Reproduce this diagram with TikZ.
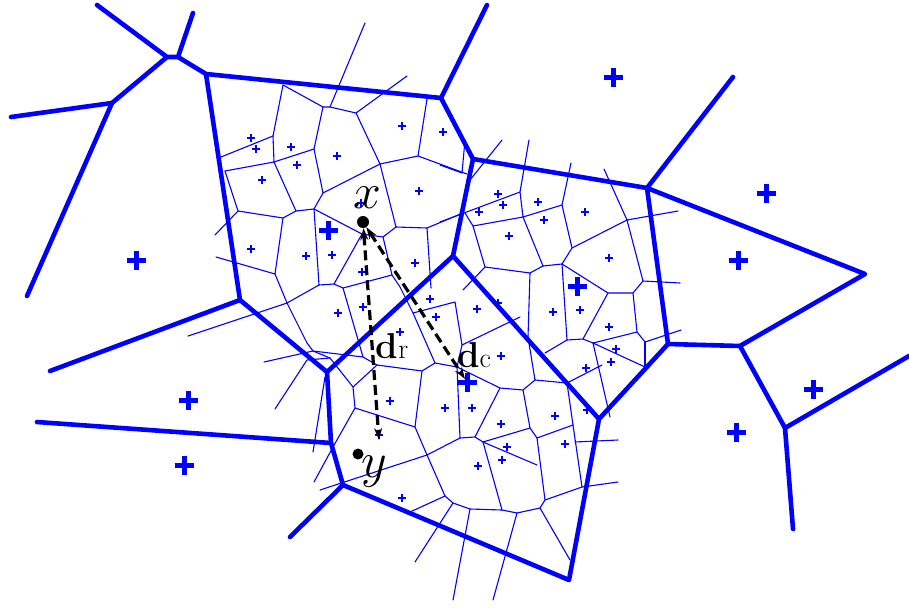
\documentclass[tikz,border=0pt]{standalone}
\usepackage{fix-cm}
\usetikzlibrary{arrows.meta}
\definecolor{vblue}{RGB}{0,0,255}
\tikzset{
  coarse/.style={draw=vblue, line width=4.6pt, line cap=round, line join=round},
  fine/.style={draw=vblue, line width=1.1pt, line cap=round, line join=round},
  bigplus/.pic={\draw[vblue, line width=5pt] (-9.5,0)--(9.5,0) (0,-9.5)--(0,9.5);},
  smallplus/.pic={\draw[vblue, line width=1.3pt] (-4,0)--(4,0) (0,-4)--(0,4);},
  dotnode/.style={circle, fill=black, inner sep=0pt, minimum size=12pt},
  dist/.style={dash pattern=on 10pt off 5pt, line width=3.2pt,
    {Stealth[length=12pt,width=8pt]}-{Stealth[length=12pt,width=8pt]}},
  lbl/.style={inner sep=0pt}
}
\newcommand{\distlabel}[1]{{\fontsize{36}{36}\selectfont\bfseries d}{\fontsize{28}{28}\selectfont #1}}
\begin{document}
\begin{tikzpicture}[x=1pt,y=-1pt]
\useasboundingbox (0,0) rectangle (909,610);
% coarse vertices
\coordinate (V1) at (167,57);  \coordinate (V2) at (178,57);
\coordinate (V3) at (206,74);  \coordinate (V4) at (112,103);
\coordinate (V5) at (441,98);  \coordinate (V6) at (473,159);
\coordinate (V7) at (240,300); \coordinate (V8) at (327,372);
\coordinate (V9) at (453,256); \coordinate (V10) at (647,188);
\coordinate (V11) at (865,274);\coordinate (V12) at (740,346);
\coordinate (V13) at (668,344);\coordinate (V14) at (599,419);
\coordinate (V15) at (785,428);\coordinate (V16) at (569,580);
\coordinate (V17) at (343,485);\coordinate (V18) at (331,443);
\coordinate (E1) at (97,5);    \coordinate (E2) at (193,13);
\coordinate (E3) at (11,117);  \coordinate (E4) at (27,296);
\coordinate (E5) at (487,5);   \coordinate (E6) at (50,371);
\coordinate (E7) at (733,77);  \coordinate (E8) at (909,356);
\coordinate (E9) at (793,529); \coordinate (E10) at (290,537);
\coordinate (E11) at (37,422);

% fine Voronoi, top-left cell
\draw[fine] (365,23)--(330,107);
\draw[fine] (407,76)--(356,113);
\draw[fine] (283,85)--(323,107)--(330,107)--(356,113)--(380,164);
\draw[fine] (283,85)--(273,136)--(221,157);
\draw[fine] (273,136)--(274,162)--(225,171);
\draw[fine] (274,162)--(314,149)--(323,107);
\draw[fine] (314,149)--(323,193)--(380,164);
\draw[fine] (323,193)--(314,209)--(296,211)--(274,162);
\draw[fine] (296,211)--(283,218)--(238,211)--(225,171);
\draw[fine] (238,211)--(215,235);
\draw[fine] (283,218)--(275,274)--(216,257);
\draw[fine] (275,274)--(287,303)--(319,285)--(314,209);
\draw[fine] (314,209)--(362,234);
\draw[fine] (319,285)--(334,284)--(362,234);
\draw[fine] (334,284)--(343,288)--(392,275)--(383,237);
\draw[fine] (392,275)--(400,287)--(413,313);
\draw[fine] (380,164)--(418,156)--(427,99);
\draw[fine] (418,156)--(467,174);
\draw[fine] (380,164)--(396,227)--(383,237)--(362,234);
\draw[fine] (396,227)--(427,228)--(463,213);
\draw[fine] (427,228)--(431,288);
\draw[fine] (188,336)--(287,303)--(307,343)--(313,351)--(363,357);
\draw[fine] (343,288)--(363,357)--(377,365);
\draw[fine] (264,362)--(313,351)--(330,358);

% fine Voronoi, bottom cell
\draw[fine] (275,409)--(307,360)--(330,358)--(353,387)--(377,365)--(422,371)--(435,363)--(457,367)--(500,388)--(523,390)--(535,380);
\draw[fine] (435,363)--(413,313)--(455,302)--(462,345)--(520,317);
\draw[fine] (462,345)--(457,367);
\draw[fine] (353,387)--(355,408)--(415,427)--(422,371);
\draw[fine] (355,408)--(333,447)--(314,482);
\draw[fine] (325,377)--(313,452);
\draw[fine] (415,427)--(427,455)--(320,490);
\draw[fine] (427,455)--(460,438)--(457,367);
\draw[fine] (460,438)--(475,437)--(500,388);
\draw[fine] (475,437)--(483,442)--(530,428)--(537,438)--(573,425)--(567,383)--(535,380);
\draw[fine] (523,390)--(530,428);
\draw[fine] (535,380)--(528,337)--(530,273);
\draw[fine] (483,442)--(537,465);
\draw[fine] (483,442)--(502,510);
\draw[fine] (537,438)--(545,500)--(582,487)--(618,482);
\draw[fine] (573,425)--(582,487);
\draw[fine] (575,442)--(618,440);
\draw[fine] (545,500)--(540,508)--(517,513)--(502,510)--(470,509)--(453,503)--(445,496)--(427,455);
\draw[fine] (445,496)--(410,512);
\draw[fine] (453,503)--(415,562);
\draw[fine] (470,509)--(453,600);
\draw[fine] (517,513)--(493,600);
\draw[fine] (540,508)--(570,560);
\draw[fine] (567,383)--(602,365);

% fine Voronoi, right cell
\draw[fine] (502,140)--(466,185);
\draw[fine] (440,165)--(462,173)--(465,140);
\draw[fine] (440,222)--(520,192)--(529,140);
\draw[fine] (520,192)--(523,217)--(473,226)--(465,213);
\draw[fine] (523,217)--(562,205)--(571,163);
\draw[fine] (562,205)--(572,248)--(562,264)--(543,266)--(523,217);
\draw[fine] (572,248)--(627,220)--(604,169);
\draw[fine] (627,220)--(678,211);
\draw[fine] (627,220)--(643,281)--(680,283);
\draw[fine] (643,281)--(633,293)--(608,293)--(562,264);
\draw[fine] (562,264)--(567,340)--(583,339)--(608,293);
\draw[fine] (633,293)--(637,332)--(645,342)--(681,330);
\draw[fine] (645,342)--(645,367);
\draw[fine] (583,339)--(593,343)--(645,367);
\draw[fine] (593,343)--(610,417);
\draw[fine] (593,343)--(637,332);
\draw[fine] (567,340)--(545,353);
\draw[fine] (543,266)--(530,273)--(485,267)--(473,226);
\draw[fine] (485,267)--(463,290);

% coarse Voronoi
\draw[coarse] (E1)--(V1)--(V2)--(E2);
\draw[coarse] (V2)--(V3)--(V5)--(E5);
\draw[coarse] (V1)--(V4)--(E3);
\draw[coarse] (V4)--(E4);
\draw[coarse] (V5)--(V6)--(V10)--(E7);
\draw[coarse] (V3)--(V7)--(E6);
\draw[coarse] (V7)--(V8)--(V9)--(V6);
\draw[coarse] (V10)--(V11)--(V12)--(V15)--(E8);
\draw[coarse] (V15)--(E9);
\draw[coarse] (V10)--(V13)--(V12);
\draw[coarse] (V13)--(V14)--(V9);
\draw[coarse] (V14)--(V16)--(V17)--(E10);
\draw[coarse] (V17)--(V18)--(E11);
\draw[coarse] (V18)--(V8);

% fine sites
\foreach \p in {(251,138),(256,149),(291,147),(297,165),(262,180),(337,156),
  (402,126),(443,132),(419,191),(361,203),(251,249),(306,256),(332,255),
  (362,272),(415,263),(430,299),(436,317),(363,307),(338,313),(477,309),
  (498,303),(400,332),(390,401),(379,435),(445,408),(472,408),(501,356),
  (501,424),(507,447),(502,460),(478,466),(402,498),(555,416),(586,368),
  (565,444),(587,410),(553,312),(580,310),(609,327),(616,349),(611,362),
  (498,194),(503,205),(538,202),(544,220),(585,212),(509,236),(609,258),
  (479,212)}
  \pic at \p {smallplus};
% coarse sites
\foreach \p in {(136,260),(328,230),(613,77),(766,193),(738,260),(577,286),
  (467,382),(188,400),(184,465),(813,389),(736,432)}
  \pic at \p {bigplus};

% points and distances
\node[dotnode] (xdot) at (363,222) {};
\node[dotnode, minimum size=11pt] (ydot) at (358,454) {};
\node[lbl, font=\fontsize{50}{50}\selectfont] (xlab) at (367,198) {$x$};
\node[lbl, font=\fontsize{50}{50}\selectfont] (ylab) at (374,472) {$y$};
\coordinate (rtip) at (379,440);
\coordinate (ctip) at (465,379);
\draw[dist] (xdot) -- (rtip);
\draw[dist] (xdot) -- (ctip);
\node[lbl] (dr) at (392,346) {\distlabel{r}};
\node[lbl] (dc) at (474,355) {\distlabel{c}};
\end{tikzpicture}
\end{document}
